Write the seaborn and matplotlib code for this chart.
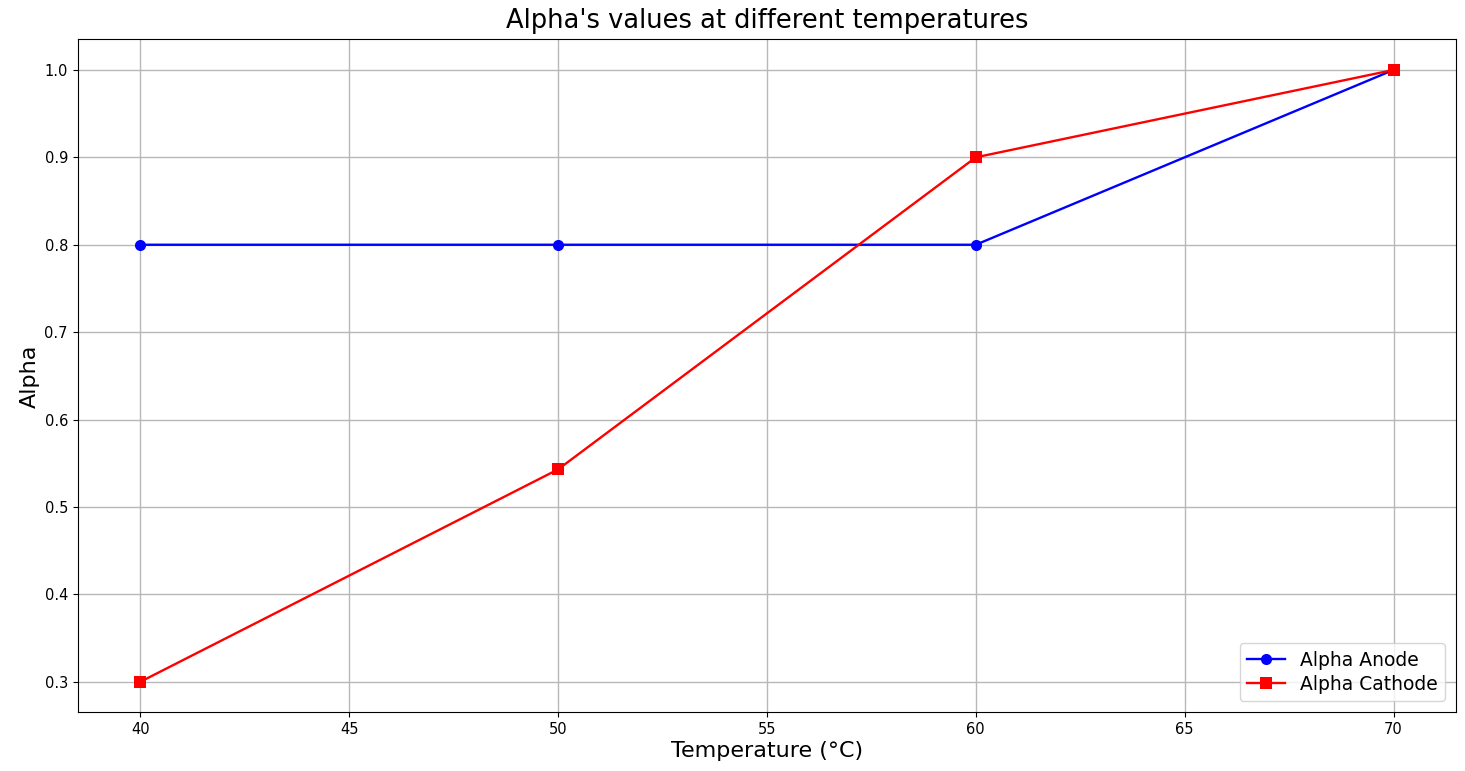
import matplotlib
matplotlib.use("Agg")
import matplotlib.pyplot as plt
import seaborn as sns
import pandas as pd

temperatures = [40, 50, 60, 70]
alpha_anode = [0.8, 0.8, 0.8, 1.0]
alpha_cathode = [0.3, 0.543, 0.9, 1.0]

df = pd.DataFrame({
    "Temperature": temperatures * 2,
    "Alpha": alpha_anode + alpha_cathode,
    "Series": ["Alpha Anode"] * 4 + ["Alpha Cathode"] * 4,
})

fig, ax = plt.subplots(figsize=(14.65, 7.71), dpi=100)
fig.subplots_adjust(left=0.053, right=0.994, top=0.949, bottom=0.076)

sns.lineplot(
    data=df, x="Temperature", y="Alpha", hue="Series", style="Series",
    palette={"Alpha Anode": "blue", "Alpha Cathode": "red"},
    markers={"Alpha Anode": "o", "Alpha Cathode": "s"},
    dashes=False, markersize=8, linewidth=1.7, markeredgewidth=0, ax=ax,
)

ax.set_title("Alpha's values at different temperatures", fontsize=18.5, pad=8)
ax.set_xlabel("Temperature (°C)", fontsize=16, labelpad=3)
ax.set_ylabel("Alpha", fontsize=16, labelpad=3)
ax.tick_params(labelsize=10.5)
ax.grid(True, color="#b8b8b8", linewidth=1)
ax.set_axisbelow(True)
ax.legend(loc="lower right", fontsize=13.5, title=None, labelspacing=0.25,
          borderaxespad=0.6)

fig.savefig("out.png", dpi=100)
